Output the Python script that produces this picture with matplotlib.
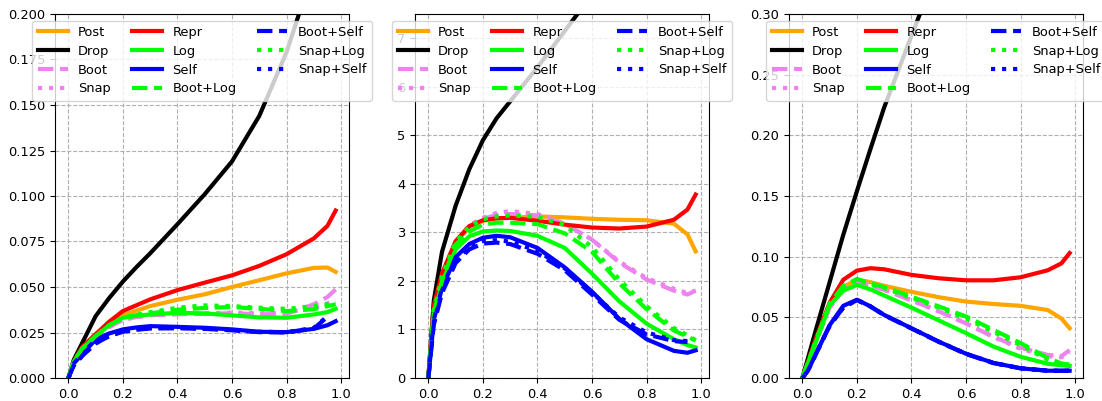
import matplotlib
matplotlib.use("Agg")
import matplotlib.pyplot as plt
import numpy as np

nan = np.nan

# shared x grid (fraction of training)
x = [0, 0.02, 0.05, 0.1, 0.15, 0.2, 0.25, 0.3, 0.4, 0.5, 0.6, 0.7, 0.8, 0.9, 0.95, 0.98]

# ---------- panel 1 ----------
p1_post = [0, .009, .016, .024, .030, .0345, .037, .0395, .043, .046, .050, .0537, .0575, .0605, .0607, .0583]
p1_drop = [0, .010, .019, .034, .044, .053, .061, .0685, .0845, .101, .119, .144, .179, .225, nan, nan]
p1_boot = [0, .009, .016, .023, .028, .0320, .0335, .0345, .0350, .0352, .0356, .0350, .0352, .0405, .0445, .0487]
p1_snap = [0, .009, .016, .023, .028, .0320, .0335, .0345, .0352, .0355, .0360, .0355, .0360, .0385, .0410, .0430]
p1_repr = [0, .009, .017, .024, .031, .0368, .040, .0432, .0483, .0524, .0564, .0616, .068, .0767, .0836, .092]
p1_log = [0, .009, .016, .023, .029, .0331, .0342, .0349, .0358, .0355, .0344, .0333, .0331, .0349, .0362, .038]
p1_self = [0, .008, .013, .0211, .0245, .0267, .0278, .0285, .0281, .0276, .0267, .0254, .0252, .027, .0290, .0312]
p1_boot_log = [0, .009, .016, .023, .029, .0330, .0345, .0355, .0375, .0385, .0390, .0380, .0368, .0378, .0395, .0405]
p1_boot_self = [0, .007, .012, .019, .0230, .0254, .0265, .0272, .0273, .0270, .0262, .0252, .0250, .0272, .0336, nan]
p1_snap_log = [0, .009, .016, .023, .029, .0332, .0348, .0362, .0386, .0399, .0395, .0386, .038, .0395, .0405, .0414]
p1_snap_self = [0, .007, .012, .019, .0232, .0258, .0268, .0275, .0276, .0272, .0264, .0254, .0252, .0275, .0340, nan]

# ---------- panel 2 ----------
p2_post = [0, 1.5, 2.15, 2.8, 3.1, 3.24, 3.29, 3.30, 3.33, 3.31, 3.28, 3.26, 3.25, 3.18, 2.96, 2.61]
p2_drop = [0, 1.6, 2.6, 3.55, 4.3, 4.9, 5.35, 5.7, 6.4, 7.15, 7.9, nan, nan, nan, nan, nan]
p2_boot = [0, 1.4, 2.1, 2.8, 3.12, 3.28, 3.36, 3.38, 3.35, 3.18, 2.85, 2.38, 2.03, 1.8, 1.72, 1.8]
p2_snap = [0, 1.4, 2.1, 2.8, 3.15, 3.3, 3.40, 3.44, 3.38, 3.18, 2.85, 2.4, 2.06, 1.84, 1.75, 1.8]
p2_repr = [0, 1.5, 2.15, 2.82, 3.13, 3.25, 3.29, 3.3, 3.24, 3.16, 3.1, 3.08, 3.12, 3.26, 3.47, 3.78]
p2_log = [0, 1.3, 1.95, 2.65, 2.92, 3.02, 3.04, 3.03, 2.93, 2.68, 2.15, 1.58, 1.12, 0.8, 0.68, 0.63]
p2_self = [0, 1.2, 1.85, 2.49, 2.76, 2.89, 2.93, 2.9, 2.68, 2.28, 1.78, 1.22, 0.8, 0.56, 0.52, 0.57]
p2_boot_log = [0, 1.35, 2.0, 2.75, 3.02, 3.16, 3.2, 3.2, 3.17, 2.98, 2.6, 1.95, 1.42, 0.98, 0.85, 0.77]
p2_boot_self = [0, 1.1, 1.75, 2.37, 2.65, 2.77, 2.79, 2.76, 2.56, 2.22, 1.72, 1.2, 0.9, 0.76, 0.74, nan]
p2_snap_log = [0, 1.4, 2.1, 2.8, 3.12, 3.27, 3.33, 3.35, 3.32, 3.15, 2.7, 2.03, 1.48, 1.03, 0.88, 0.78]
p2_snap_self = [0, 1.15, 1.8, 2.42, 2.7, 2.82, 2.84, 2.81, 2.62, 2.26, 1.76, 1.25, 0.94, 0.78, 0.76, nan]

# ---------- panel 3 ----------
p3_post = [0, .012, .031, .060, .075, .081, .079, .076, .071, .0666, .063, .061, .0595, .056, .049, .041]
p3_drop = [0, .016, .040, .079, .118, .154, .189, .223, .282, .34, nan, nan, nan, nan, nan, nan]
p3_boot = [0, .012, .030, .058, .073, .0795, .076, .0726, .064, .055, .045, .034, .025, .019, .018, .023]
p3_snap = [0, .012, .030, .058, .073, .0800, .0765, .073, .064, .055, .045, .034, .024, .018, .017, .021]
p3_repr = [0, .013, .033, .062, .081, .0885, .0905, .0896, .085, .0822, .0805, .0805, .083, .0888, .0945, .103]
p3_log = [0, .012, .030, .060, .072, .0767, .073, .068, .058, .0475, .037, .026, .0175, .0117, .0105, .010]
p3_self = [0, .006, .020, .0435, .0595, .0645, .059, .052, .041, .030, .020, .0125, .008, .006, .006, .006]
p3_boot_log = [0, .012, .031, .061, .076, .0816, .078, .075, .067, .059, .0507, .0397, .0288, .0164, .012, .011]
p3_boot_self = [0, .006, .020, .043, .058, .0642, .0588, .0518, .0408, .0298, .0198, .0123, .008, .006, .006, .006]
p3_snap_log = [0, .012, .031, .061, .075, .081, .077, .074, .066, .058, .049, .038, .027, .015, .011, .010]
p3_snap_self = [0, .006, .020, .043, .058, .0645, .059, .052, .041, .030, .020, .0125, .008, .006, .006, .006]

labels = ["Post", "Drop", "Boot", "Snap", "Repr", "Log", "Self",
          "Boot+Log", "Boot+Self", "Snap+Log", "Snap+Self"]
colors = ["orange", "black", "violet", "violet", "red", "lime", "blue",
          "lime", "blue", "lime", "blue"]
styles = ["-", "-", "--", ":", "-", "-", "-", "--", "--", ":", ":"]

panels = [
    [p1_post, p1_drop, p1_boot, p1_snap, p1_repr, p1_log, p1_self,
     p1_boot_log, p1_boot_self, p1_snap_log, p1_snap_self],
    [p2_post, p2_drop, p2_boot, p2_snap, p2_repr, p2_log, p2_self,
     p2_boot_log, p2_boot_self, p2_snap_log, p2_snap_self],
    [p3_post, p3_drop, p3_boot, p3_snap, p3_repr, p3_log, p3_self,
     p3_boot_log, p3_boot_self, p3_snap_log, p3_snap_self],
]
ylims = [(0, 0.2), (0, 7.5), (0, 0.3)]
lefts = [55, 415, 789]

plt.rcParams["font.size"] = 9.4

fig = plt.figure(figsize=(11.02, 4.01), dpi=100)
for series, ylim, left in zip(panels, ylims, lefts):
    ax = fig.add_axes([left / 1102, 1 - 378 / 401, 294 / 1102, 364 / 401])
    for vals, lab, c, ls in zip(series, labels, colors, styles):
        ax.plot(x, vals, color=c, linestyle=ls, linewidth=3, label=lab)
    ax.set_ylim(*ylim)
    ax.set_xticks([0, 0.2, 0.4, 0.6, 0.8, 1.0])
    ax.grid(linestyle="--")
    ax.legend(loc="upper center", ncol=3, handlelength=2.3,
              labelspacing=0.45, columnspacing=1.6)

plt.savefig("out.png", dpi=100)
plt.close()
